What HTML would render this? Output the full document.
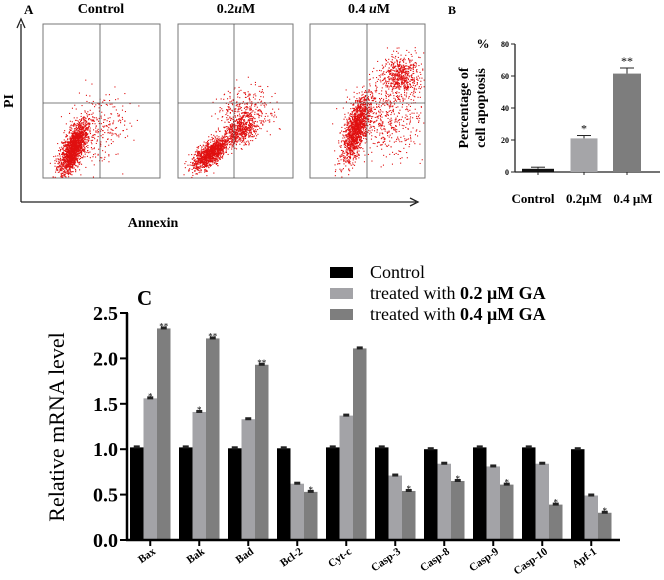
<!DOCTYPE html>
<html><head><meta charset="utf-8"><style>
html,body{margin:0;padding:0;background:#fff;}
svg{display:block;}
text{font-family:"Liberation Serif",serif;}
</style></head><body>
<svg id="fig" width="664" height="580" viewBox="0 0 664 580" xmlns="http://www.w3.org/2000/svg">
<g id="panelA">
  <text x="24" y="14" font-size="13" font-weight="bold">A</text>
  <text x="101" y="13" font-size="14" font-weight="bold" text-anchor="middle">Control</text>
  <text x="236" y="13" font-size="14" font-weight="bold" text-anchor="middle">0.2<tspan font-style="italic">u</tspan>M</text>
  <text x="369" y="13" font-size="14" font-weight="bold" text-anchor="middle">0.4 <tspan font-style="italic">u</tspan>M</text>
  <line x1="21" y1="202" x2="21" y2="24" stroke="#222" stroke-width="1.3"/>
  <path d="M17,28 L21,19 L25,28" fill="none" stroke="#222" stroke-width="1.3"/>
  <line x1="21" y1="202" x2="416" y2="202" stroke="#222" stroke-width="1.3"/>
  <path d="M410,198 L418,202 L410,206" fill="none" stroke="#222" stroke-width="1.3"/>
  <text x="13" y="101" font-size="14" font-weight="bold" text-anchor="middle" transform="rotate(-90 13 101)">PI</text>
  <text x="153" y="227" font-size="14" font-weight="bold" text-anchor="middle">Annexin</text>
</g>
<g id="panelB"></g>
<g id="panelC"></g>
</svg>
<script>
// ---- Panel B data ----
const bCategories = ["Control", "0.2\u03bcM", "0.4 \u03bcM"];
const bValues = [2, 21, 61.5];
const bErrors = [1, 1.8, 3.5];
const bStars = ["", "*", "**"];
const bTicks = [0, 20, 40, 60, 80];
// ---- Panel C data ----
const cCategories = ["Bax","Bak","Bad","Bcl-2","Cyt-c","Casp-3","Casp-8","Casp-9","Casp-10","Apf-1"];
const cControl = [1.02,1.02,1.01,1.01,1.02,1.02,1.00,1.02,1.02,1.00];
const cLow = [1.56,1.41,1.33,0.62,1.37,0.71,0.84,0.81,0.84,0.49];
const cHigh = [2.33,2.22,1.93,0.53,2.11,0.54,0.65,0.61,0.39,0.30];
const cLowStars = ["*","*","","","","","","","",""];
const cHighStars = ["**","**","**","*","","*","*","*","*","*"];
const cTicks = [0,0.5,1.0,1.5,2.0,2.5];
const cSeriesNames = ["Control","0.2 \u03bcM GA","0.4 \u03bcM GA"];

const NS = "http://www.w3.org/2000/svg";
function mk(tag, attrs, parent){const e=document.createElementNS(NS,tag);for(const k in attrs)e.setAttribute(k,attrs[k]);parent.appendChild(e);return e;}

// ---- Panel A scatter (decorative, seeded) ----
(function(){
  const A=document.getElementById('panelA');
  let s=12345;function r(){s=(s*1103515245+12345)%2147483648;return s/2147483648;}
  function g(){let u=r()||1e-6,v=r();return Math.sqrt(-2*Math.log(u))*Math.cos(2*Math.PI*v);}
  const plots=[
    {x0:43,x1:160,qx:100,clusters:[[73,148,7,10,0.9,1800],[100,130,14,18,0.2,250]]},
    {x0:178,x1:293,qx:234,clusters:[[210,153,9,6,0.9,1200],[240,130,8,7,0.3,500],[245,112,14,12,0,350]]},
    {x0:310,x1:425,qx:367,clusters:[[356,128,7,12,0.9,1400],[400,75,10,10,0,600],[385,120,18,18,0,500]]}
  ];
  plots.forEach((p,i)=>{
    const grp=mk('g',{},A);
    
    
    mk('rect',{x:p.x0,y:24,width:p.x1-p.x0,height:154,fill:'none',stroke:'#777','stroke-width':1},grp);
    p.clusters.forEach(c=>{
      for(let k=0;k<c[5];k++){
        let a=g(),b=g();
        let x=c[0]+a*c[2],y=c[1]+b*c[3]-a*c[4]*c[3];
        if(x<p.x0+1||x>p.x1-1||y<25||y>177)continue;
        mk('rect',{x:x.toFixed(1),y:y.toFixed(1),width:1.1,height:1.1,fill:'#e01010'},grp);
      }
    });
    mk('line',{x1:p.qx,y1:24,x2:p.qx,y2:178,stroke:'#555','stroke-width':0.8},grp);
    mk('line',{x1:p.x0,y1:103,x2:p.x1,y2:103,stroke:'#555','stroke-width':0.8},grp);
  });
})();

// ---- Panel B ----
(function(){
  const B=document.getElementById('panelB');
  const yB=v=>172-v*1.6;
  const xs=[538,584,627], w=[32,27,28];
  const cols=['#111','#a5a5a8','#7d7d7d'];
  let t=mk('text',{x:448,y:14,'font-size':12,'font-weight':'bold'},B);t.textContent='B';
  
  t=mk('text',{x:483,y:48,'font-size':13,'font-weight':'bold','text-anchor':'middle'},B);t.textContent='%';
  t=mk('text',{x:468,y:108,'font-size':14,'font-weight':'bold','text-anchor':'middle',transform:'rotate(-90 468 108)'},B);t.textContent='Percentage of';
  
  t=mk('text',{x:485,y:108,'font-size':14,'font-weight':'bold','text-anchor':'middle',transform:'rotate(-90 485 108)'},B);t.textContent='cell apoptosis';
  mk('line',{x1:515,y1:yB(80),x2:515,y2:yB(0),stroke:'#222','stroke-width':1.3},B);
  mk('line',{x1:515,y1:yB(0),x2:660,y2:yB(0),stroke:'#222','stroke-width':1.3},B);
  bTicks.forEach(v=>{
    mk('line',{x1:511,y1:yB(v),x2:515,y2:yB(v),stroke:'#222'},B);
    const tt=mk('text',{x:509,y:yB(v)+3,'font-size':8,'font-family':'Liberation Sans, sans-serif','font-weight':'bold','text-anchor':'end'},B);tt.textContent=v;
    
  });
  bValues.forEach((v,i)=>{
    const r=mk('rect',{x:xs[i]-w[i]/2,y:yB(v),width:w[i],height:yB(0)-yB(v),fill:cols[i]},B);
    
    const e=v+bErrors[i];
    mk('line',{x1:xs[i],y1:yB(e),x2:xs[i],y2:yB(v),stroke:'#222'},B);
    mk('line',{x1:xs[i]-7,y1:yB(e),x2:xs[i]+7,y2:yB(e),stroke:'#222'},B);
    mk('line',{x1:xs[i],y1:yB(0),x2:xs[i],y2:yB(0)+3,stroke:'#222'},B);
    if(bStars[i]){const s=mk('text',{x:xs[i],y:yB(e)-3,'font-size':12,'text-anchor':'middle'},B);s.textContent=bStars[i];}
    const l=mk('text',{x:xs[i]+(i==0?-5:(i==2?6:0)),y:203,'font-size':13,'font-weight':'bold','text-anchor':'middle'},B);l.textContent=bCategories[i];
    
  });
})();

// ---- Panel C ----
(function(){
  const C=document.getElementById('panelC');
  const yC=v=>540-v*90.8;
  const step=49, bw=13.5, x0=130;
  const cols=['#000','#a3a3a7','#7e7e7e'];
  const series=[cControl,cLow,cHigh], stars=[null,cLowStars,cHighStars];
  let t=mk('text',{x:137,y:305,'font-size':21,'font-weight':'bold'},C);t.textContent='C';
  
  t=mk('text',{x:64,y:427,'font-size':22,'text-anchor':'middle',transform:'rotate(-90 64 427)'},C);t.textContent='Relative  mRNA level';
  
  cTicks.forEach(v=>{
    mk('line',{x1:120,y1:yC(v),x2:128,y2:yC(v),stroke:'#000','stroke-width':2},C);
    const tt=mk('text',{x:118,y:yC(v)+7,'font-size':20,'font-family':'Liberation Sans, sans-serif','font-weight':'bold','text-anchor':'end'},C);tt.textContent=v.toFixed(1);
    
  });
  cCategories.forEach((c,i)=>{
    const gx=x0+i*step;
    series.forEach((arr,j)=>{
      const v=arr[i], x=gx+j*bw;
      const r=mk('rect',{x:x,y:yC(v),width:bw,height:yC(0)-yC(v),fill:cols[j]},C);
      
      mk('rect',{x:x+bw/2-3,y:yC(v)-2,width:6,height:3,fill:'#222'},C);
      if(stars[j]&&stars[j][i]){const s=mk('text',{x:x+bw/2,y:yC(v)+1,'font-size':9,'text-anchor':'middle'},C);s.textContent=stars[j][i];}
    });
    const cx=gx+bw*1.5;
    mk('line',{x1:cx,y1:540,x2:cx,y2:546,stroke:'#000','stroke-width':2},C);
    const l=mk('text',{x:cx+6,y:553,'font-size':11,'font-weight':'bold','text-anchor':'end',transform:'rotate(-35 '+(cx+6)+' 553)'},C);l.textContent=c;
    
  });
  mk('line',{x1:127,y1:yC(2.5),x2:127,y2:541,stroke:'#000','stroke-width':2.5},C);
  mk('line',{x1:126,y1:540,x2:620,y2:540,stroke:'#000','stroke-width':2.5},C);
  // legend
  const ly=[273,294,315];
  cSeriesNames.forEach((n,j)=>{
    const g=mk('g',{},C);
    
    mk('rect',{x:330,y:ly[j]-6,width:23,height:11,fill:cols[j]},g);
    const tx=mk('text',{x:370,y:ly[j]+5,'font-size':18},g);
    if(j==0){tx.textContent='Control';}
    else{const a=mk('tspan',{},tx);a.textContent='treated with  ';const b=mk('tspan',{'font-weight':'bold'},tx);b.textContent=n;}
  });
})();
</script>
</body></html>
